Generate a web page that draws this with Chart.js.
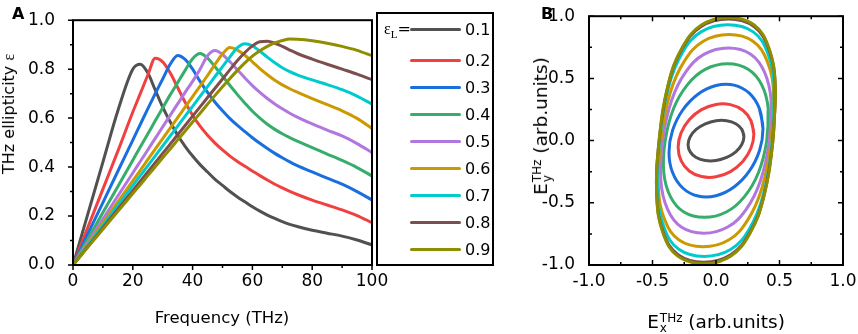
<!DOCTYPE html>
<html lang="en">
<head>
  <meta charset="UTF-8" />
  <title>THz ellipticity and polarization</title>
  <script src="https://cdn.jsdelivr.net/npm/chart.js"></script>
  <style>
    body { margin: 0; background: #fff; font-family: 'DejaVu Sans', sans-serif; color: #000; }
    #wrap { position: relative; width: 858px; height: 334px; overflow: hidden; }
    canvas { position: absolute; top: 0; }
    #chartA { left: 0; }
    #chartB { left: 500px; }
    .panel { position: absolute; font-weight: bold; font-size: 16px; line-height: 16px; }
    .title { position: absolute; white-space: nowrap; line-height: 18px; }
    .rot { transform: translate(-50%, -50%) rotate(-90deg); }
    .ss { display: inline-block; vertical-align: -4px; font-size: 12px; line-height: 10px; margin-left: 1px; }
    .ss span { display: block; }
    .serif { font-family: 'Liberation Serif', serif; }
    #legendBox { position: absolute; left: 376px; top: 12px; width: 118px; height: 254px;
                 border: 2px solid #000; box-sizing: border-box; }
    .lrow { position: absolute; left: 410px; height: 20px; display: flex; align-items: center; font-size: 16px; }
    .lline { display: inline-block; width: 51px; height: 3px; border-radius: 1.5px; }
    .ltext { margin-left: 4px; }
    #epsL { position: absolute; left: 384px; top: 19px; font-size: 16px; line-height: 20px; white-space: nowrap; }
  </style>
</head>
<body>
<div id="wrap">
  <canvas id="chartA" width="392" height="334"></canvas>
  <canvas id="chartB" width="358" height="334"></canvas>

  <div class="panel" style="left:12px; top:6px;">A</div>
  <div class="panel" style="left:541px; top:6px;">B</div>

  <div class="title rot" style="left:9px; top:114px; font-size:16px;">THz ellipticity <span class="serif">ε</span></div>
  <div class="title" style="left:222px; top:309px; font-size:16.5px; transform:translateX(-50%);">Frequency (THz)</div>

  <div class="title rot" style="left:542px; top:126px; font-size:18.5px;">E<span class="ss"><span>THz</span><span>y</span></span> (arb.units)</div>
  <div class="title" style="left:716px; top:313px; font-size:18.5px; transform:translateX(-50%);">E<span class="ss"><span>THz</span><span>x</span></span> (arb.units)</div>

  <div id="legendBox"></div>
  <div id="epsL"><span class="serif">ε<sub style="font-size:11px;">L</sub></span>=</div>
  <div id="legendRows"></div>
</div>

<script>
  // ---- panel A: ellipticity vs frequency ----
  const freq = [0, 5, 10, 15, 20, 22.5, 25, 27.5, 30, 32.5, 35, 37.5, 40, 42.5, 45, 47.5, 50,
                52.5, 55, 57.5, 60, 62.5, 65, 67.5, 70, 72.5, 75, 80, 85, 90, 95, 100];

  const eps01 = [0, 0.21, 0.42, 0.63, 0.80, 0.82, 0.785, 0.715, 0.645, 0.585, 0.53, 0.485, 0.445, 0.41, 0.38, 0.35, 0.325,
                 0.30, 0.278, 0.258, 0.238, 0.22, 0.204, 0.19, 0.177, 0.166, 0.157, 0.142, 0.13, 0.118, 0.102, 0.082];
  const eps02 = [0, 0.155, 0.31, 0.465, 0.625, 0.70, 0.775, 0.845, 0.83, 0.785, 0.725, 0.665, 0.612, 0.567, 0.53, 0.498, 0.47,
                 0.445, 0.423, 0.403, 0.384, 0.365, 0.347, 0.33, 0.315, 0.301, 0.288, 0.265, 0.245, 0.225, 0.202, 0.173];
  const eps03 = [0, 0.128, 0.255, 0.383, 0.51, 0.574, 0.638, 0.70, 0.76, 0.82, 0.856, 0.84, 0.80, 0.75, 0.705, 0.665, 0.63,
                 0.598, 0.57, 0.545, 0.52, 0.497, 0.476, 0.456, 0.438, 0.421, 0.406, 0.38, 0.355, 0.33, 0.30, 0.266];
  const eps04 = [0, 0.107, 0.214, 0.321, 0.428, 0.482, 0.535, 0.589, 0.642, 0.695, 0.745, 0.795, 0.843, 0.864, 0.845, 0.81, 0.772,
                 0.733, 0.696, 0.661, 0.628, 0.60, 0.575, 0.554, 0.536, 0.52, 0.506, 0.479, 0.453, 0.427, 0.398, 0.364];
  const eps05 = [0, 0.094, 0.188, 0.282, 0.376, 0.423, 0.47, 0.517, 0.564, 0.611, 0.658, 0.705, 0.75, 0.80, 0.855, 0.876, 0.86,
                 0.83, 0.797, 0.764, 0.733, 0.705, 0.68, 0.658, 0.638, 0.62, 0.604, 0.576, 0.551, 0.527, 0.496, 0.459];
  const eps06 = [0, 0.086, 0.172, 0.258, 0.344, 0.387, 0.43, 0.473, 0.516, 0.559, 0.602, 0.645, 0.688, 0.731, 0.774, 0.82, 0.862,
                 0.888, 0.878, 0.857, 0.83, 0.802, 0.777, 0.755, 0.736, 0.72, 0.706, 0.68, 0.655, 0.63, 0.599, 0.558];
  const eps07 = [0, 0.081, 0.162, 0.243, 0.324, 0.365, 0.405, 0.446, 0.486, 0.527, 0.567, 0.608, 0.648, 0.689, 0.729, 0.77, 0.81,
                 0.85, 0.888, 0.904, 0.895, 0.873, 0.849, 0.826, 0.806, 0.79, 0.777, 0.756, 0.737, 0.716, 0.69, 0.657];
  const eps08 = [0, 0.076, 0.152, 0.228, 0.304, 0.342, 0.38, 0.418, 0.456, 0.494, 0.532, 0.57, 0.608, 0.646, 0.684, 0.722, 0.76,
                 0.798, 0.835, 0.868, 0.895, 0.912, 0.914, 0.906, 0.893, 0.878, 0.864, 0.841, 0.82, 0.80, 0.78, 0.757];
  const eps09 = [0, 0.073, 0.146, 0.219, 0.292, 0.328, 0.365, 0.401, 0.438, 0.474, 0.511, 0.547, 0.584, 0.62, 0.657, 0.693, 0.728,
                 0.762, 0.795, 0.826, 0.853, 0.875, 0.893, 0.907, 0.917, 0.923, 0.922, 0.916, 0.906, 0.893, 0.877, 0.855];

  const levels = ['0.1', '0.2', '0.3', '0.4', '0.5', '0.6', '0.7', '0.8', '0.9'];
  const colors = ['#515151', '#F14040', '#1A6FDF', '#37AD6B', '#B177DE', '#CC9900', '#00CBCC', '#7D4E4E', '#8E8E00'];
  const seriesA = [eps01, eps02, eps03, eps04, eps05, eps06, eps07, eps08, eps09];

  // ---- panel B: polarization traces (Ex, Ey), points ----
  const loop01 = [[0.220,0.033],[0.203,0.091],[0.156,0.136],[0.084,0.160],[0,0.160],[-0.084,0.135],[-0.156,0.090],[-0.203,0.031],
                  [-0.220,-0.033],[-0.203,-0.091],[-0.156,-0.136],[-0.084,-0.160],[0,-0.160],[0.084,-0.135],[0.156,-0.090],[0.203,-0.031]];
  const loop02 = [[0.298,0.053],[0.275,0.161],[0.211,0.244],[0.114,0.289],[0,0.291],[-0.114,0.249],[-0.211,0.168],[-0.275,0.062],
                  [-0.298,-0.053],[-0.275,-0.161],[-0.211,-0.244],[-0.114,-0.289],[0,-0.291],[0.114,-0.249],[0.211,-0.168],[0.275,-0.062]];
  const loop03 = [[0.370,0.095],[0.342,0.257],[0.262,0.381],[0.142,0.446],[0,0.443],[-0.142,0.373],[-0.262,0.246],[-0.342,0.082],
                  [-0.370,-0.095],[-0.342,-0.257],[-0.262,-0.381],[-0.142,-0.446],[0,-0.443],[0.142,-0.373],[0.262,-0.246],[0.342,-0.082]];
  const loop04 = [[0.400,0],[0.411,0.258],[0.359,0.450],[0.253,0.574],[0.093,0.617],[-0.081,0.574],[-0.224,0.450],[-0.334,0.258],
                  [-0.400,0],[-0.411,-0.258],[-0.359,-0.450],[-0.253,-0.574],[-0.093,-0.617],[0.081,-0.574],[0.224,-0.450],[0.334,-0.258]];
  const loop05 = [[0.420,0],[0.434,0.323],[0.382,0.551],[0.273,0.695],[0.097,0.745],[-0.092,0.695],[-0.239,0.551],[-0.350,0.323],
                  [-0.420,0],[-0.434,-0.323],[-0.382,-0.551],[-0.273,-0.695],[-0.097,-0.745],[0.092,-0.695],[0.239,-0.551],[0.350,-0.323]];
  const loop06 = [[0.435,0],[0.453,0.383],[0.403,0.639],[0.291,0.799],[0.102,0.853],[-0.100,0.799],[-0.249,0.639],[-0.361,0.383],
                  [-0.435,0],[-0.453,-0.383],[-0.403,-0.639],[-0.291,-0.799],[-0.102,-0.853],[0.100,-0.799],[0.249,-0.639],[0.361,-0.383]];
  const loop07 = [[0.443,0],[0.459,0.432],[0.406,0.706],[0.293,0.874],[0.093,0.931],[-0.118,0.874],[-0.265,0.706],[-0.373,0.432],
                  [-0.443,0],[-0.459,-0.432],[-0.406,-0.706],[-0.293,-0.874],[-0.093,-0.931],[0.118,-0.874],[0.265,-0.706],[0.373,-0.432]];
  const loop08 = [[0.448,0],[0.466,0.453],[0.414,0.740],[0.299,0.917],[0.098,0.977],[-0.116,0.917],[-0.266,0.740],[-0.375,0.453],
                  [-0.448,0],[-0.466,-0.453],[-0.414,-0.740],[-0.299,-0.917],[-0.098,-0.977],[0.116,-0.917],[0.266,-0.740],[0.375,-0.453]];
  const loop09 = [[0.448,0],[0.466,0.459],[0.415,0.750],[0.301,0.929],[0.099,0.990],[-0.115,0.929],[-0.265,0.750],[-0.375,0.459],
                  [-0.448,0],[-0.466,-0.459],[-0.415,-0.750],[-0.301,-0.929],[-0.099,-0.990],[0.115,-0.929],[0.265,-0.750],[0.375,-0.459]];
  const loopsB = [loop01, loop02, loop03, loop04, loop05, loop06, loop07, loop08, loop09];

  const ticksA = { xMajor: [0, 20, 40, 60, 80, 100], xMinor: [10, 30, 50, 70, 90],
                   yMajor: [0, 0.2, 0.4, 0.6, 0.8, 1.0], yMinor: [0.1, 0.3, 0.5, 0.7, 0.9] };
  const ticksB = { xMajor: [-1, -0.5, 0, 0.5, 1], xMinor: [-0.75, -0.25, 0.25, 0.75],
                   yMajor: [-1, -0.5, 0, 0.5, 1], yMinor: [-0.75, -0.25, 0.25, 0.75] };

  Chart.defaults.font.family = "'DejaVu Sans', sans-serif";
  Chart.defaults.font.size = 17;
  Chart.defaults.color = '#000';

  // frame + Origin-style tick marks
  const axisBox = {
    id: 'axisBox',
    afterDatasetsDraw(chart, args, o) {
      const { ctx, chartArea: a } = chart;
      const sx = chart.scales.x, sy = chart.scales.y;
      const d = o.inward ? -1 : 1;
      ctx.save();
      ctx.strokeStyle = '#000';
      ctx.lineWidth = 1.5;
      ctx.beginPath();
      const xm = (vals, len) => vals.forEach(v => {
        const p = sx.getPixelForValue(v);
        ctx.moveTo(p, a.bottom); ctx.lineTo(p, a.bottom + d * len);
        if (o.allSides) { ctx.moveTo(p, a.top); ctx.lineTo(p, a.top - d * len); }
      });
      const ym = (vals, len) => vals.forEach(v => {
        const p = sy.getPixelForValue(v);
        ctx.moveTo(a.left, p); ctx.lineTo(a.left - d * len, p);
        if (o.allSides) { ctx.moveTo(a.right, p); ctx.lineTo(a.right + d * len, p); }
      });
      xm(o.ticks.xMajor, 5); xm(o.ticks.xMinor, 3);
      ym(o.ticks.yMajor, 5); ym(o.ticks.yMinor, 3);
      ctx.stroke();
      ctx.lineWidth = 2;
      ctx.strokeRect(a.left, a.top, a.width, a.height);
      ctx.restore();
    }
  };

  function baseScale(min, max, step, pad, fmt) {
    return {
      type: 'linear', min: min, max: max,
      grid: { display: false }, border: { display: false },
      ticks: { stepSize: step, padding: pad, maxRotation: 0, callback: fmt }
    };
  }

  // panel A
  const xA = baseScale(0, 100, 20, -2, v => String(v));
  xA.afterFit = s => { s.height = 69; };
  const yA = baseScale(0, 1, 0.2, 10, v => v.toFixed(1));
  yA.afterFit = s => { s.width = 73; };

  new Chart(document.getElementById('chartA'), {
    type: 'line',
    data: {
      datasets: seriesA.map((vals, i) => ({
        label: levels[i],
        data: freq.map((f, k) => ({ x: f, y: vals[k] })),
        borderColor: colors[i],
        borderWidth: 3,
        pointRadius: 0,
        cubicInterpolationMode: 'monotone',
        fill: false,
        order: -i
      }))
    },
    options: {
      responsive: false,
      animation: false,
      layout: { padding: { top: 13, right: 20, left: 0, bottom: 0 } },
      plugins: { legend: { display: false }, tooltip: { enabled: false },
                 axisBox: { ticks: ticksA, inward: false, allSides: false } },
      scales: { x: xA, y: yA }
    },
    plugins: [axisBox]
  });

  // panel B
  const fmtB = v => v.toFixed(1);
  const xB = baseScale(-1, 1, 0.5, -2, fmtB);
  xB.afterFit = s => { s.height = 69; };
  const yB = baseScale(-1, 1, 0.5, 6, fmtB);
  yB.afterFit = s => { s.width = 89; };

  new Chart(document.getElementById('chartB'), {
    type: 'scatter',
    data: {
      datasets: loopsB.map((pts, i) => ({
        label: levels[i],
        // close the loop by repeating the first two points
        data: pts.concat(pts.slice(0, 2)).map(p => ({ x: p[0], y: p[1] })),
        showLine: true,
        borderColor: colors[i],
        borderWidth: 3,
        pointRadius: 0,
        tension: 0.4,
        fill: false,
        order: -i
      }))
    },
    options: {
      responsive: false,
      animation: false,
      layout: { padding: { top: 13, right: 15, left: 0, bottom: 0 } },
      plugins: { legend: { display: false }, tooltip: { enabled: false },
                 axisBox: { ticks: ticksB, inward: true, allSides: true } },
      scales: { x: xB, y: yB }
    },
    plugins: [axisBox]
  });

  // legend of panel A
  const rows = document.getElementById('legendRows');
  levels.forEach((lv, i) => {
    const y = i === 0 ? 29 : 60 + (i - 1) * 27.1;
    const row = document.createElement('div');
    row.className = 'lrow';
    row.style.top = (y - 10) + 'px';
    row.innerHTML = '<span class="lline" style="background:' + colors[i] + '"></span><span class="ltext">' + lv + '</span>';
    rows.appendChild(row);
  });
</script>
</body>
</html>
